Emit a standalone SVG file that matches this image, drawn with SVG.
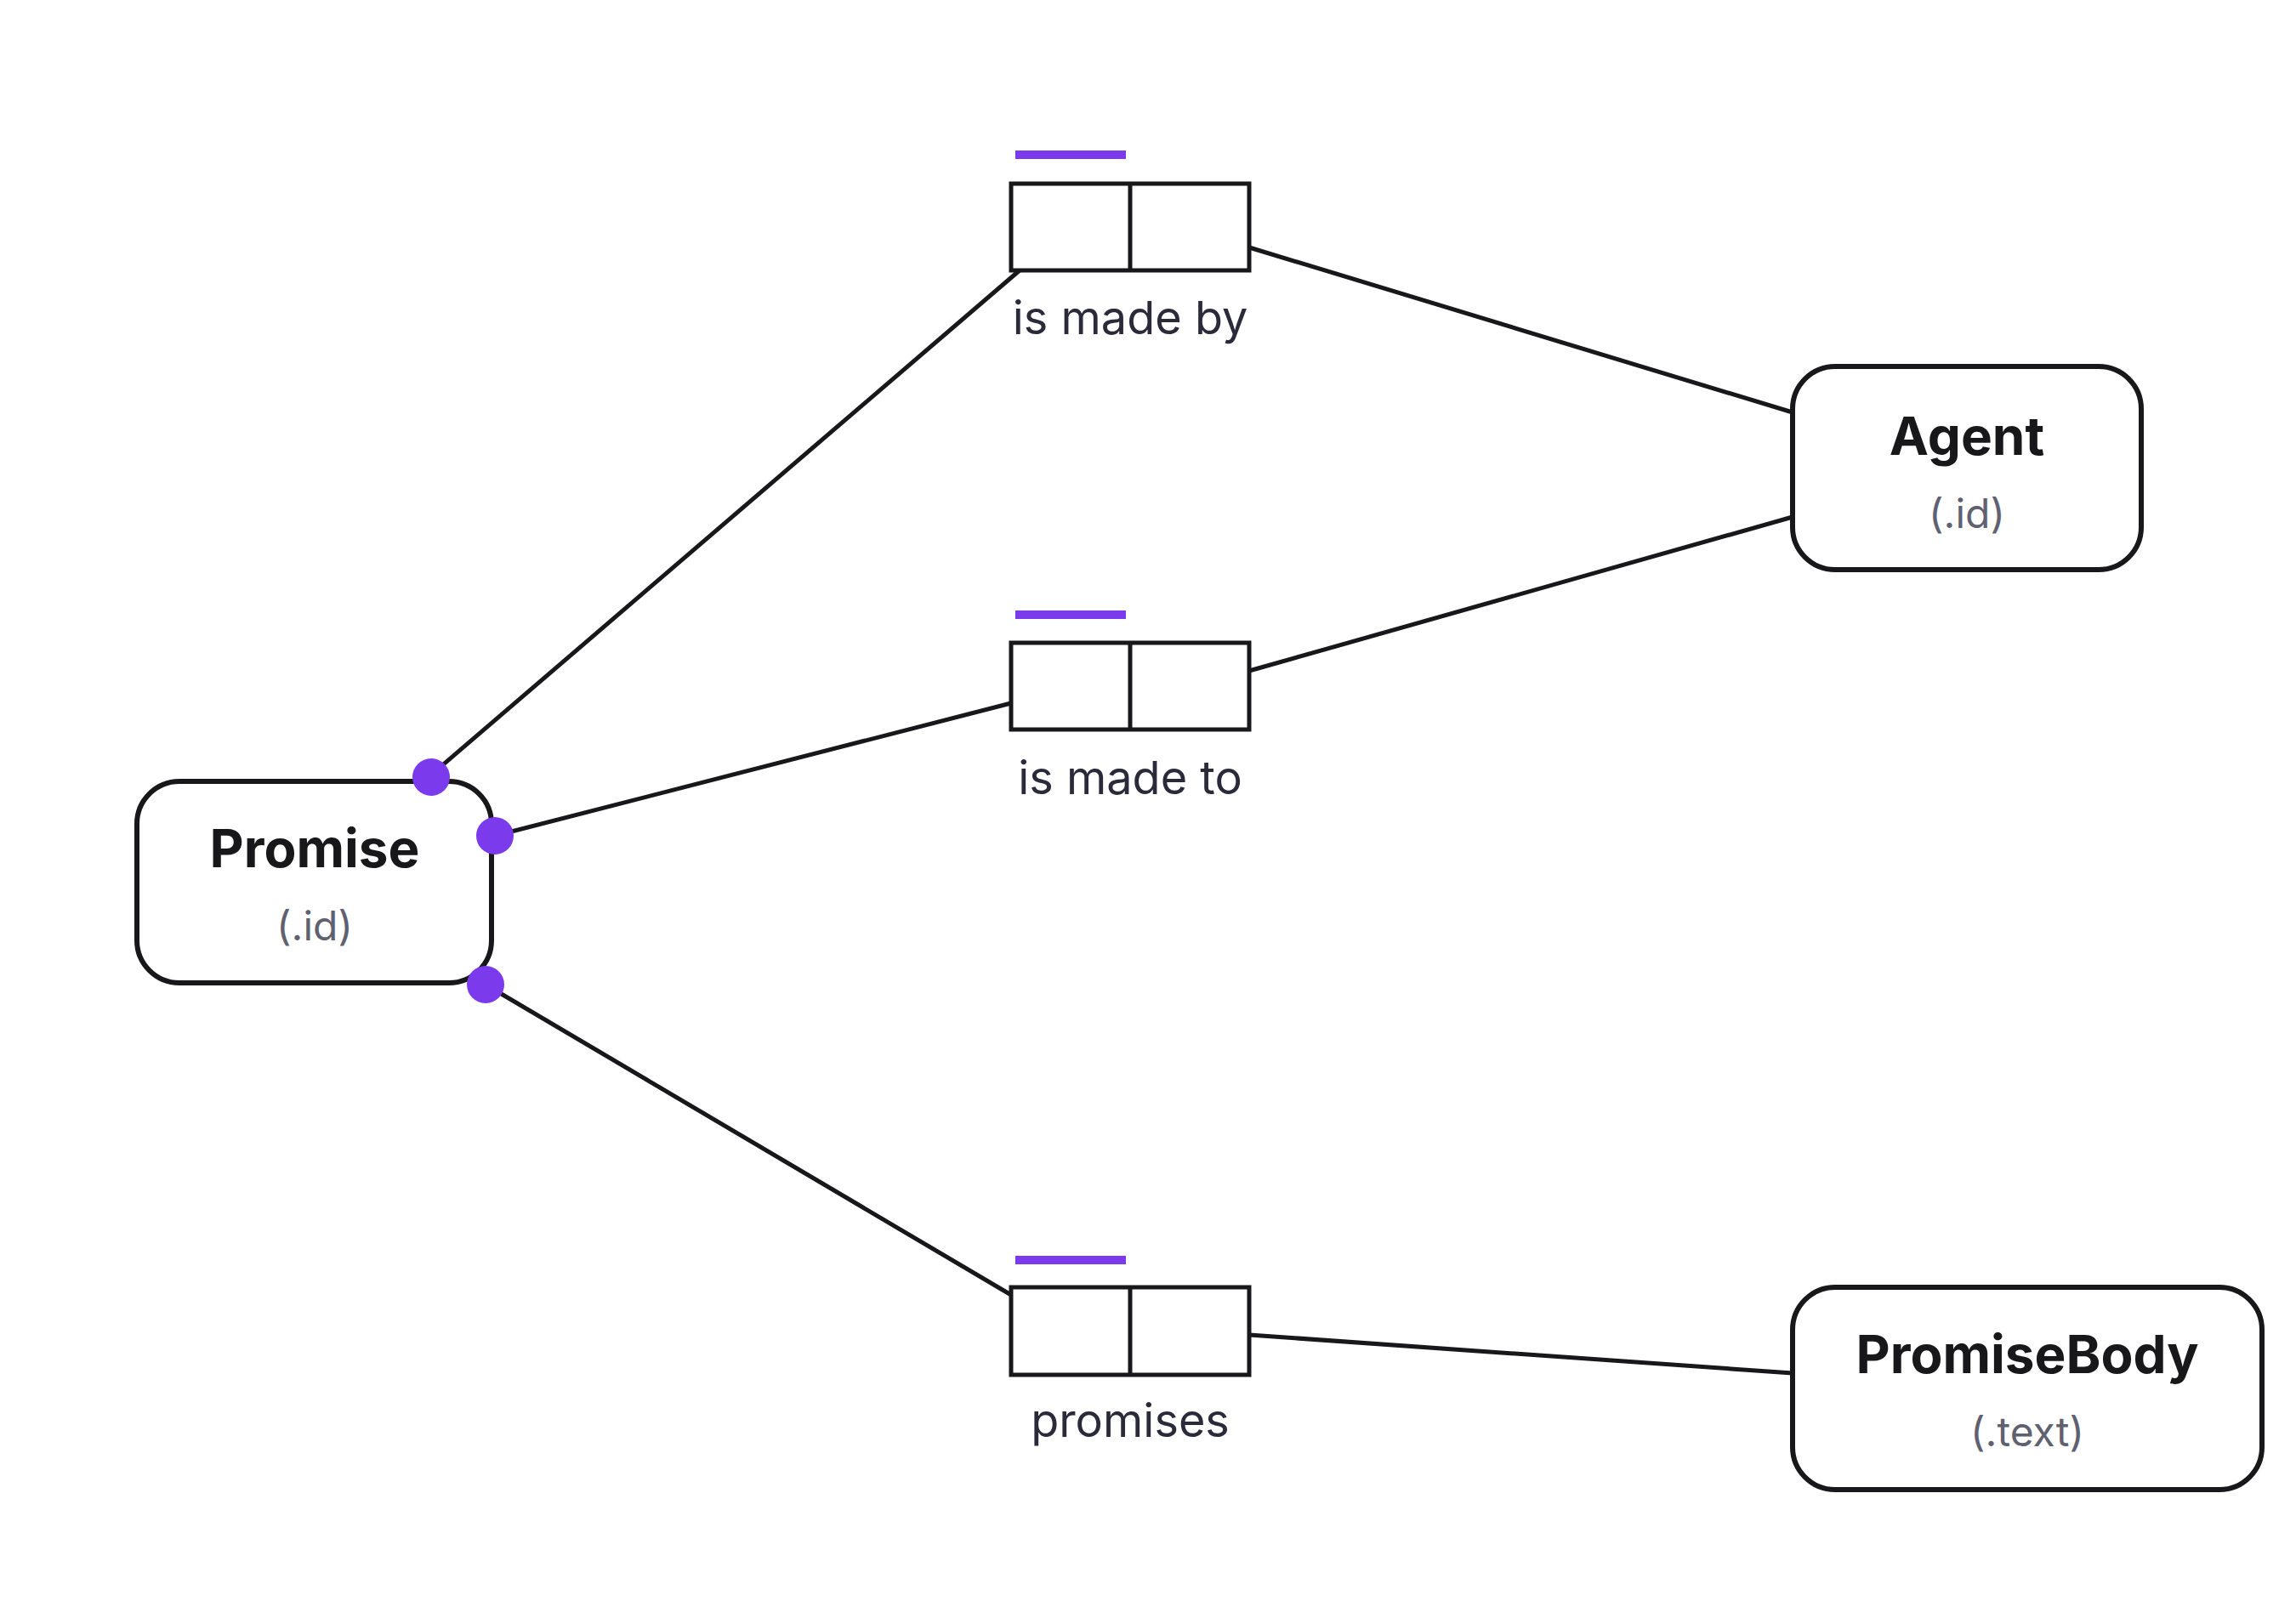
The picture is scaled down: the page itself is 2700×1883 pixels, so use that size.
<svg xmlns="http://www.w3.org/2000/svg" width="2700" height="1883" viewBox="0 0 2700 1883">
<style>
.n{fill:#fff;stroke:#18181b;stroke-width:6}
.f{fill:#fff;stroke:#18181b;stroke-width:5}
.c{stroke:#18181b;stroke-width:5;fill:none}
.u{stroke:#7c3aed;stroke-width:10}
.d{fill:#7c3aed}
.t{font-family:"Inter","Liberation Sans",sans-serif;font-weight:700;font-size:62px;fill:#18181b;text-anchor:middle}
.s{font-family:"Inter","Liberation Sans",sans-serif;font-size:48px;fill:#5f6170;text-anchor:middle}
.l{font-family:"Inter","Liberation Sans",sans-serif;font-size:54px;fill:#2a2a3a;text-anchor:middle}
</style>
<rect width="2700" height="1883" fill="#fff"/>
<g id="connectors">
<line class="c" x1="504" y1="914" x2="1199" y2="318"/>
<line class="c" x1="1469" y1="291" x2="2108" y2="485"/>
<line class="c" x1="582" y1="983" x2="1189" y2="827"/>
<line class="c" x1="1469" y1="789" x2="2108" y2="608"/>
<line class="c" x1="571" y1="1158" x2="1189" y2="1523"/>
<line class="c" x1="1469" y1="1570" x2="2108" y2="1615"/>
</g>
<g id="promise">
<rect class="n" x="161" y="919" width="417" height="237" rx="50"/>
<text class="t" x="370" y="1020">Promise</text>
<text class="s" x="370" y="1106">(.id)</text>
<circle class="d" cx="507" cy="914" r="22"/>
<circle class="d" cx="582" cy="983" r="22"/>
<circle class="d" cx="571" cy="1158" r="22"/>
</g>
<g id="agent">
<rect class="n" x="2108" y="431" width="410" height="239" rx="50"/>
<text class="t" x="2313" y="535">Agent</text>
<text class="s" x="2313" y="621">(.id)</text>
</g>
<g id="promisebody">
<rect class="n" x="2108" y="1514" width="552" height="238" rx="50"/>
<text class="t" x="2384" y="1615">PromiseBody</text>
<text class="s" x="2384" y="1701">(.text)</text>
</g>
<g id="fact1">
<line class="u" x1="1194" y1="182" x2="1324" y2="182"/>
<rect class="f" x="1189" y="216" width="280" height="102"/>
<line class="c" x1="1329" y1="216" x2="1329" y2="318"/>
<text class="l" x="1329" y="393">is made by</text>
</g>
<g id="fact2">
<line class="u" x1="1194" y1="723" x2="1324" y2="723"/>
<rect class="f" x="1189" y="756" width="280" height="102"/>
<line class="c" x1="1329" y1="756" x2="1329" y2="858"/>
<text class="l" x="1329" y="934">is made to</text>
</g>
<g id="fact3">
<line class="u" x1="1194" y1="1482" x2="1324" y2="1482"/>
<rect class="f" x="1189" y="1514" width="280" height="103"/>
<line class="c" x1="1329" y1="1514" x2="1329" y2="1617"/>
<text class="l" x="1329" y="1690">promises</text>
</g>
</svg>
